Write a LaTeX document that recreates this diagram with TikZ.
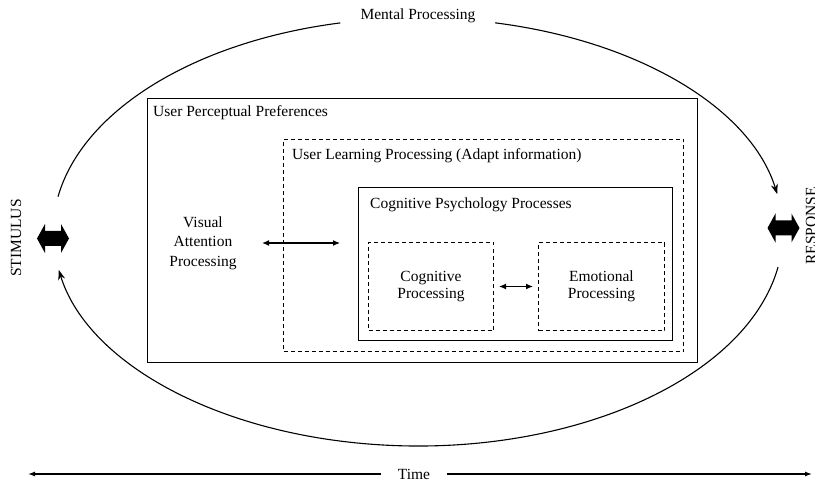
\documentclass[tikz,border=0pt]{standalone}
\usepackage{fontspec}
\setmainfont{Liberation Serif}
\usetikzlibrary{arrows.meta}
\begin{document}
\begin{tikzpicture}[x=1pt,y=1pt,
  font=\fontsize{15.5}{19}\selectfont,
  solidbox/.style={draw, line width=1pt, inner sep=0pt, anchor=south west},
  dashbox/.style={draw, line width=1pt, inner sep=0pt, anchor=south west, dash pattern=on 4pt off 3pt},
  lbl/.style={anchor=base west, inner sep=0pt},
  arr/.style={line width=1.1pt, {Latex[length=7pt,width=6pt]}-{Latex[length=7pt,width=6pt]}},
  ell/.style={line width=1.1pt},
  ellarr/.style={line width=1.1pt, -{Stealth[length=10pt,width=7pt]}},
  timearr/.style={line width=1.3pt, -{Latex[length=7pt,width=5pt]}},
  blockarr/.style={fill=black}
]
\useasboundingbox (0,0) rectangle (815,491);

% boxes
\node[solidbox, minimum width=550pt, minimum height=264pt] (upp) at (147,128) {};
\node[dashbox, minimum width=400pt, minimum height=212pt] (ulp) at (283,139) {};
\node[solidbox, minimum width=314pt, minimum height=153pt] (cpp) at (358,150) {};
\node[dashbox, minimum width=125pt, minimum height=88pt, align=center,
      font=\fontsize{15.5}{17}\selectfont] (cp) at (368,160) {Cognitive\\Processing};
\node[dashbox, minimum width=126pt, minimum height=88pt, align=center,
      font=\fontsize{15.5}{17}\selectfont] (ep) at (538,160) {Emotional\\Processing};

% box labels
\node[lbl] (uppl) at (153,374) {User Perceptual Preferences};
\node[lbl] (ulpl) at (292,331) {User Learning Processing (Adapt information)};
\node[lbl] (cppl) at (370,282) {Cognitive Psychology Processes};

% visual attention
\node[align=center, font=\fontsize{15.5}{19.5}\selectfont] (vap) at (203,248) {Visual\\Attention\\Processing};
\draw[arr] ([xshift=22pt]vap.east) -- ([xshift=-18pt]vap.east -| cpp.west);
\draw[arr] ([xshift=5pt]cp.east) -- ([xshift=-5pt]ep.west);

% ellipse
\coordinate (ec) at (418,259);
\node[anchor=base] (mp) at (418,471) {Mental Processing};
\draw[ell] ([shift={(170.5:365 and 214)}]ec) arc[start angle=170.5, end angle=102.3, x radius=365, y radius=214];
\draw[ellarr] ([shift={(77.8:365 and 214)}]ec) arc[start angle=77.8, end angle=10.2, x radius=365, y radius=214];
\draw[ellarr] ([shift={(-9.4:365 and 214)}]ec) arc[start angle=-9.4, end angle=-169.8, x radius=365, y radius=214];

% stimulus / response
\node[rotate=90] (stim) at (16,253) {STIMULUS};
\node[rotate=90] (resp) at (811,265) {RESPONSE};

% block double arrows
\coordinate (dl) at (53,252.5);
\coordinate (dr) at (783.5,263);
\foreach \c in {dl,dr}{
  \fill[blockarr] (\c) ++(-16,0) -- ++(8,14.5) -- ++(0,-7) -- ++(16,0) -- ++(0,7)
    -- ++(8,-14.5) -- ++(-8,-14.5) -- ++(0,7) -- ++(-16,0) -- ++(0,-7) -- cycle;
}

% time
\node[inner xsep=16.5pt] (time) at (414,17) {Time};
\coordinate (tl) at (28,17);
\coordinate (tr) at (812,17);
\draw[timearr] (time.west) -- (tl);
\draw[timearr] (time.east) -- (tr);
\end{tikzpicture}
\end{document}
